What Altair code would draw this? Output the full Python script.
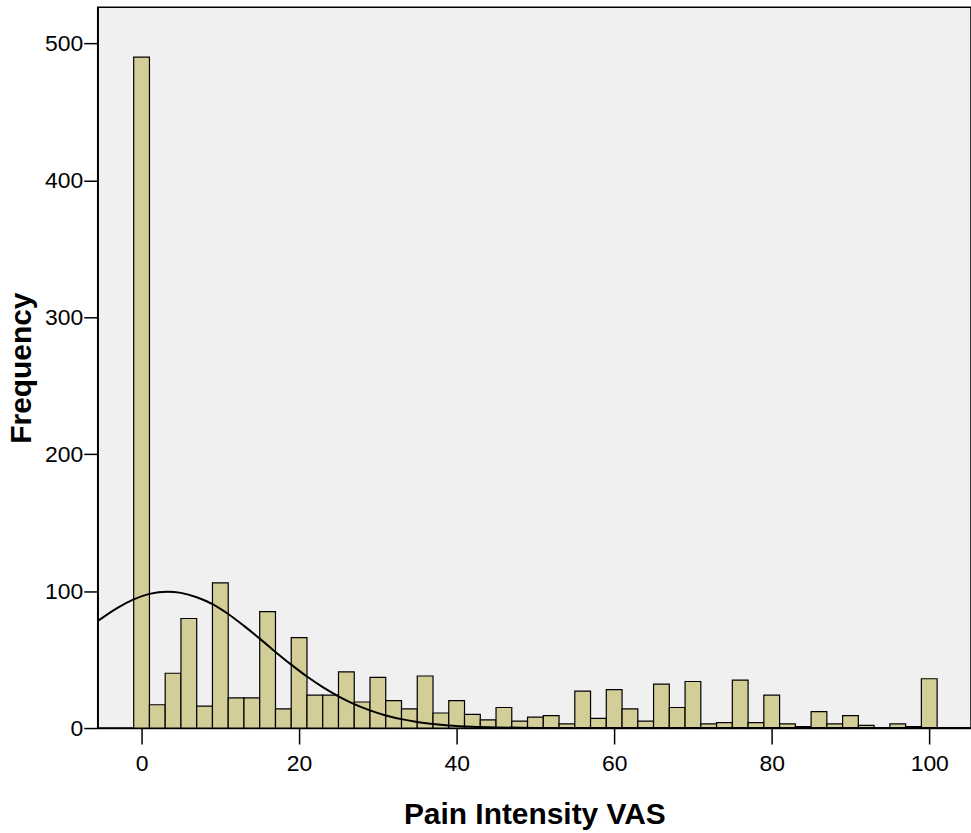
import altair as alt
import pandas as pd

# Histogram bins (centers, width 2) and frequencies
bin_centers = list(range(0, 101, 2))
counts = [490, 17, 40, 80, 16, 106, 22, 22, 85, 14,
          66, 24, 24, 41, 19, 37, 20, 14, 38, 11,
          20, 10, 6, 15, 5, 8, 9, 3, 27, 7,
          28, 14, 5, 32, 15, 34, 3, 4, 35, 4,
          24, 3, 1, 12, 3, 9, 2, 0, 3, 1, 36]
bin_width = 2

# Normal curve points
curve_x = [-5.6, -3, -1, 1, 3.3, 5, 7, 9, 11, 13, 15, 17, 19, 21, 23, 25, 27,
           29, 31, 33, 35, 37, 39, 42, 45, 50, 55, 60, 80, 105.3]
curve_y = [78, 88, 94, 98, 99.6, 98.7, 95.5, 90.5, 83.3, 74.6, 65.3, 55.6, 46.3,
           37.6, 29.9, 23.2, 17.5, 12.9, 9.2, 6.5, 4.4, 2.95, 1.9, 0.96, 0.46,
           0.12, 0.03, 0, 0, 0]

x_ticks = [0, 20, 40, 60, 80, 100]
y_ticks = [0, 100, 200, 300, 400, 500]

bars = pd.DataFrame({"center": bin_centers, "count": counts})
bars["x0"] = bars["center"] - bin_width / 2
bars["x1"] = bars["center"] + bin_width / 2
curve = pd.DataFrame({"x": curve_x, "y": curve_y})

xdom = [-5.57, 105.3]
ydom = [0, 526.4]
FONT = "Liberation Sans"

xscale = alt.Scale(domain=xdom, nice=False, zero=False)
yscale = alt.Scale(domain=ydom, nice=False)

bar_layer = alt.Chart(bars).mark_rect(
    fill="#D3CE97", stroke="#000000", strokeWidth=1.2
).encode(
    x=alt.X("x0:Q", scale=xscale,
            axis=alt.Axis(values=x_ticks, title="Pain Intensity VAS", grid=False,
                          tickSize=16, tickWidth=1.5, tickColor="black",
                          domainColor="black", domainWidth=1.5,
                          labelFont=FONT, labelFontSize=23, labelColor="black",
                          labelPadding=9,
                          titleFont=FONT, titleFontSize=30, titleFontWeight="bold",
                          titleColor="black", titlePadding=24)),
    x2="x1:Q",
    y=alt.Y("count:Q", scale=yscale,
            axis=alt.Axis(values=y_ticks, title="Frequency", grid=False,
                          tickSize=14, tickWidth=1.5, tickColor="black",
                          domainColor="black", domainWidth=1.5,
                          labelFont=FONT, labelFontSize=23, labelColor="black",
                          labelPadding=1,
                          titleFont=FONT, titleFontSize=30, titleFontWeight="bold",
                          titleColor="black", titlePadding=8)),
    y2=alt.datum(0),
)

line_layer = alt.Chart(curve).mark_line(
    color="black", strokeWidth=2, interpolate="monotone", clip=True
).encode(
    x=alt.X("x:Q", scale=xscale),
    y=alt.Y("y:Q", scale=yscale),
)

chart = alt.layer(bar_layer, line_layer).properties(
    width=876, height=723,
    padding={"left": 98, "top": 6, "right": 0, "bottom": 104},
    autosize=alt.AutoSizeParams(type="none"),
    background="white",
).configure_view(
    fill="#F0F0F0", stroke="black", strokeWidth=1.5
)

chart.save("out.html", embed_options={"renderer": "svg", "actions": False})
